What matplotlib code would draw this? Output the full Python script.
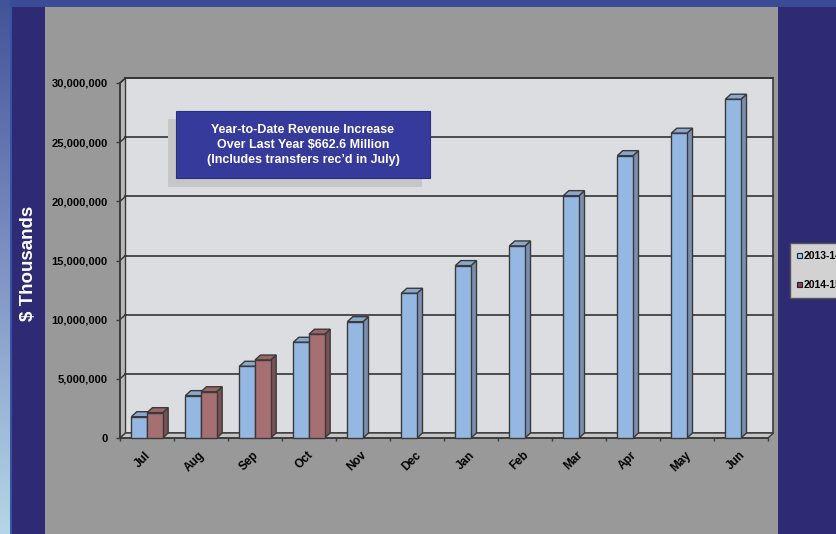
import numpy as np
import matplotlib.pyplot as plt
from matplotlib.patches import Rectangle, Polygon
from matplotlib.transforms import ScaledTranslation

plt.rcParams['font.family'] = ['Liberation Sans', 'DejaVu Sans']

# || Data ($ thousands)
months = ['Jul', 'Aug', 'Sep', 'Oct', 'Nov', 'Dec', 'Jan', 'Feb', 'Mar', 'Apr', 'May', 'Jun']
fy2014 = [1.80e6, 3.58e6, 6.06e6, 8.09e6, 9.83e6, 12.23e6, 14.57e6, 16.23e6,
          20.48e6, 23.86e6, 25.76e6, 28.63e6]
fy2015 = [2.14e6, 3.91e6, 6.59e6, 8.77e6]
series_names = ['2013-14', '2014-15']
yticks = [0, 5e6, 10e6, 15e6, 20e6, 25e6, 30e6]
note = "Year-to-Date Revenue Increase\nOver Last Year $662.6 Million\n(Includes transfers rec\u2019d in July)"

W, H = 837, 534


def px(x, y):
    # pixel (from top-left) -> figure fraction
    return x / W, 1 - y / H


def fig_rect(fig, x0, y0, x1, y1, **kw):
    fx, fy = px(x0, y1)
    r = Rectangle((fx, fy), (x1 - x0) / W, (y1 - y0) / H, transform=fig.transFigure, **kw)
    fig.add_artist(r)
    return r


fig = plt.figure(figsize=(W / 100, H / 100), dpi=100)
fig.patch.set_facecolor('#3b4b95')

# || slide background
grad = fig.add_axes([0, 0, 10 / W, 1])
grad.imshow(np.linspace(0, 1, 200).reshape(-1, 1), aspect='auto', extent=[0, 1, 0, 1],
            cmap=plt.matplotlib.colors.LinearSegmentedColormap.from_list('g', ['#435399', '#7f93c4', '#b4d6e6']))
grad.set_axis_off()
fig_rect(fig, 10, 7, 45, 534, facecolor='#2e2a74', edgecolor='none', zorder=0)
fig_rect(fig, 10, 7, 12, 534, facecolor='#3355a4', edgecolor='none', zorder=0)
fig_rect(fig, 45, 7, 778, 534, facecolor='#999999', edgecolor='none', zorder=0)
fig_rect(fig, 778, 7, 837, 534, facecolor='#2e2a74', edgecolor='none', zorder=0)

# || plot axes: front plane
x_left, x_right, y_bot, y_top = 120, 768, 438, 83
ax = fig.add_axes([x_left / W, 1 - y_bot / H, (x_right - x_left) / W, (y_bot - y_top) / H])
ax.set_xlim(-0.5, 11.5)
ax.set_ylim(0, 30e6)
ax.set_facecolor('none')
for s in ax.spines.values():
    s.set_visible(False)

ppx = 12.0 / (x_right - x_left)          # data per pixel in x
ppy = 30e6 / (y_bot - y_top)             # data per pixel in y
dx, dy = 5.5 * ppx, 5 * ppy              # depth offset
edge = '#3a3a3a'

# back wall, left wall, floor
ax.add_patch(Polygon([(-0.5 + dx, dy), (11.5 + dx, dy), (11.5 + dx, 30e6 + dy), (-0.5 + dx, 30e6 + dy)],
                     closed=True, facecolor='#dcdde0', edgecolor=edge, lw=1.2, clip_on=False, zorder=1))
ax.add_patch(Polygon([(-0.5, 0), (-0.5 + dx, dy), (-0.5 + dx, 30e6 + dy), (-0.5, 30e6)],
                     closed=True, facecolor='#b8b8b8', edgecolor=edge, lw=1.0, clip_on=False, zorder=1))
ax.add_patch(Polygon([(-0.5, 0), (11.5, 0), (11.5 + dx, dy), (-0.5 + dx, dy)],
                     closed=True, facecolor='#c4c4c4', edgecolor=edge, lw=1.0, clip_on=False, zorder=1))
for v in yticks[1:]:
    ax.plot([-0.5 + dx, 11.5 + dx], [v + dy, v + dy], color='#333333', lw=1.2, zorder=2, clip_on=False)
    ax.plot([-0.5, -0.5 + dx], [v, v + dy], color='#333333', lw=1.0, zorder=2, clip_on=False)
ax.plot([-0.5, -0.5], [0, 30e6], color=edge, lw=1.2, zorder=2, clip_on=False)
ax.plot([-0.5, 11.5], [0, 0], color=edge, lw=1.2, zorder=2, clip_on=False)


def bar3d(x0, width, h, front, top, side, z):
    x1 = x0 + width
    ax.add_patch(Polygon([(x1, 0), (x1 + dx, dy), (x1 + dx, h + dy), (x1, h)], closed=True,
                         facecolor=side, edgecolor=edge, lw=1.0, clip_on=False, zorder=z))
    ax.add_patch(Polygon([(x0, h), (x1, h), (x1 + dx, h + dy), (x0 + dx, h + dy)], closed=True,
                         facecolor=top, edgecolor=edge, lw=1.0, clip_on=False, zorder=z))
    ax.add_patch(Rectangle((x0, 0), width, h, facecolor=front, edgecolor=edge, lw=1.0,
                           clip_on=False, zorder=z))


bw = 0.29
blue = ('#95b8e3', '#8aa7cf', '#7b8fb0')
red = ('#a66f72', '#9a6467', '#7a5254')
for i, v in enumerate(fy2014):
    bar3d(i - bw, bw, v, *blue, z=3 + i * 2)
for i, v in enumerate(fy2015):
    bar3d(i, bw, v, *red, z=4 + i * 2)

# ticks
ax.set_yticks(yticks)
ax.set_yticklabels([f'{int(v):,}' for v in yticks], fontsize=8, fontweight='bold')
ax.tick_params(axis='y', length=3, width=1, color=edge, pad=6)
ax.set_xticks(np.arange(-0.5, 12, 1), minor=True)
ax.tick_params(axis='x', which='minor', length=2, width=1, color=edge)
ax.set_xticks(np.arange(12))
ax.set_xticklabels(months, fontsize=8.5, fontweight='bold', rotation=45, ha='right',
                   va='center', rotation_mode='anchor')
ax.tick_params(axis='x', which='major', length=0, pad=11)
shift = ScaledTranslation(2 / 100, 0, fig.dpi_scale_trans)
for lab in ax.get_xticklabels():
    lab.set_transform(lab.get_transform() + shift)

# || y label
fig.text(*px(29, 263), '$ Thousands', rotation=90, color='white', fontsize=13.5,
         fontweight='bold', ha='center', va='center')

# || annotation box with shadow
fig_rect(fig, 168, 119, 422, 187, facecolor='#c6c6c6', edgecolor='none', zorder=20)
fig_rect(fig, 176, 111, 430, 178, facecolor='#363a9a', edgecolor='#2a2d80', lw=0.8, zorder=21)
fig.text(*px(303, 145), note, color='white', fontsize=9, fontweight='bold',
         ha='center', va='center', linespacing=1.35, zorder=22)

# || legend (cut off at the slide edge, as in the source)
fig_rect(fig, 790, 243, 850, 298, facecolor='#d2d2d2', edgecolor='#555555', lw=1.0, zorder=20)
for k, (name, col) in enumerate(zip(series_names, ['#9cc8ec', '#8e3a5e'])):
    yy = 256 + k * 29
    fig_rect(fig, 797, yy - 3, 802, yy + 2, facecolor=col, edgecolor='#222222', lw=0.8, zorder=21)
    fig.text(*px(804, yy), name, fontsize=7.5, fontweight='bold', ha='left', va='center', zorder=22)

fig.savefig('out.png', dpi=100)
